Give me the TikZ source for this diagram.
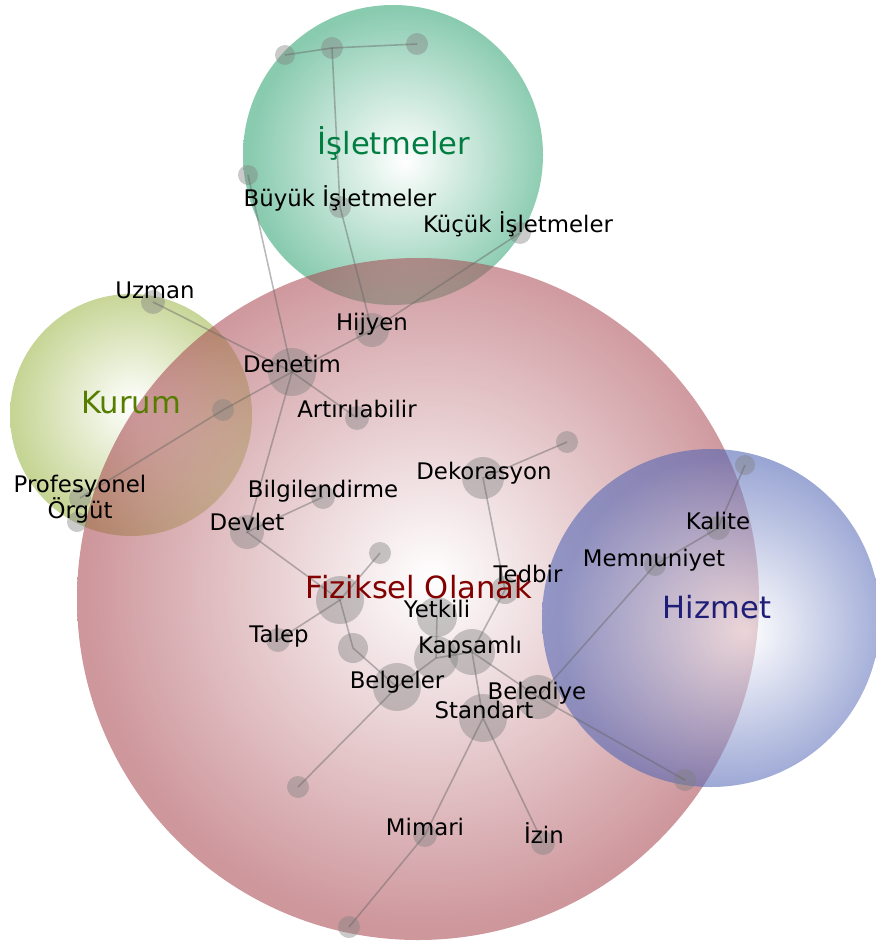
\documentclass[tikz,border=0pt]{standalone}
\usepackage{fontspec}
\setmainfont{DejaVu Sans}
\usepackage{tikz}

\definecolor{fizcol}{RGB}{165,65,75}
\definecolor{iscol}{RGB}{40,160,110}
\definecolor{kurcol}{RGB}{150,178,60}
\definecolor{hizcol}{RGB}{80,100,180}
\definecolor{fiztext}{RGB}{130,0,0}
\definecolor{istext}{RGB}{0,125,65}
\definecolor{kurtext}{RGB}{85,125,0}
\definecolor{hiztext}{RGB}{30,30,120}

\pgfdeclareradialshading{fizshade}{\pgfpoint{1bp}{1.5bp}}{color(0bp)=(white); color(25bp)=(fizcol); color(50bp)=(fizcol)}
\pgfdeclareradialshading{isshade}{\pgfpoint{2bp}{-1bp}}{color(0bp)=(white); color(25bp)=(iscol); color(50bp)=(iscol)}
\pgfdeclareradialshading{kurshade}{\pgfpoint{0.5bp}{2bp}}{color(0bp)=(white); color(25bp)=(kurcol); color(50bp)=(kurcol)}
\pgfdeclareradialshading{hizshade}{\pgfpoint{5bp}{-2bp}}{color(0bp)=(white); color(25bp)=(hizcol); color(50bp)=(hizcol)}

\tikzset{
  blob/.style={circle, fill=gray, fill opacity=0.42, inner sep=0pt, minimum size=#1},
  blob/.default=0.44cm,
  link/.style={draw=black!60, opacity=0.45, line width=0.9pt},
  lbl/.style={anchor=base, inner sep=0pt, font=\fontsize{13}{14.8}\selectfont},
  cat/.style={anchor=base, inner sep=0pt, font=\fontsize{17.4}{20}\selectfont}
}

\begin{document}
\begin{tikzpicture}[x=0.02cm, y=-0.02cm]
    \useasboundingbox (0,0) rectangle (875,942);

    % the four groups
    \shade [shading=isshade, fill opacity=0.55] (393,155) circle (150);
    \shade [shading=kurshade, fill opacity=0.55] (131,415) circle (121);
    \shade [shading=fizshade, fill opacity=0.55] (418,599) circle (341);
    \shade [shading=hizshade, fill opacity=0.58] (711,618) circle (169);

    % words
    \node [blob=0.4cm] (a1) at (285,55) {};
    \node [blob] (b1) at (332,48) {};
    \node [blob] (c1) at (417,44) {};
    \node [blob=0.4cm] (d1) at (248,175) {};
    \node [blob] (buyuk) at (340,207) {};
    \node [blob] (kucuk) at (520,233) {};
    \node [blob=0.48cm] (uzman) at (153,302) {};
    \node [blob=0.68cm] (hijyen) at (372,330) {};
    \node [blob=0.96cm] (denetim) at (292,372) {};
    \node [blob=0.48cm] (artir) at (357,418) {};
    \node [blob] (kurumdot) at (223,410) {};
    \node [blob] (prof) at (80,498) {};
    \node [blob=0.4cm] (prof2) at (77,522) {};
    \node [blob=0.48cm] (bilgi) at (323,497) {};
    \node [blob=0.68cm] (devlet) at (247,532) {};
    \node [blob=0.84cm] (dekor) at (483,478) {};
    \node [blob] (e2) at (567,442) {};
    \node [blob=0.56cm] (tedbir) at (505,590) {};
    \node [blob] (e1) at (380,553) {};
    \node [blob=0.96cm] (fiziksel) at (340,600) {};
    \node [blob=0.48cm] (talep) at (278,640) {};
    \node [blob=0.6cm] (f1) at (353,648) {};
    \node [blob=0.8cm] (yetkili) at (437,617) {};
    \node [blob=0.88cm] (kapsA) at (436,658) {};
    \node [blob=0.92cm] (kapsB) at (472,652) {};
    \node [blob=0.96cm] (belgeler) at (397,687) {};
    \node [blob=0.88cm] (belediye) at (538,697) {};
    \node [blob=0.96cm] (standart) at (483,718) {};
    \node [blob] (memnun) at (655,565) {};
    \node [blob=0.48cm] (kalite) at (718,528) {};
    \node [blob=0.4cm] (h1) at (745,465) {};
    \node [blob] (h2) at (685,780) {};
    \node [blob] (g1) at (298,787) {};
    \node [blob=0.48cm] (mimari) at (425,835) {};
    \node [blob=0.48cm] (izin) at (543,843) {};
    \node [blob] (m1) at (349,927) {};

    % links
    \draw [link] (a1.center) -- (b1.center) -- (c1.center);
    \draw [link] (b1.center) -- (buyuk.center) -- (hijyen.center);
    \draw [link] (d1.center) -- (denetim.center);
    \draw [link] (kucuk.center) -- (hijyen.center) -- (denetim.center) -- (kurumdot.center) -- (prof.center);
    \draw [link] (uzman.center) -- (denetim.center) -- (artir.center);
    \draw [link] (denetim.center) -- (devlet.center) -- (bilgi.center);
    \draw [link] (devlet.center) -- (fiziksel.center) -- (e1.center);
    \draw [link] (fiziksel.center) -- (talep.center);
    \draw [link] (fiziksel.center) -- (f1.center) -- (belgeler.center) -- (g1.center);
    \draw [link] (belgeler.center) -- (kapsA.center) -- (yetkili.center);
    \draw [link] (kapsA.center) -- (kapsB.center) -- (tedbir.center) -- (dekor.center) -- (e2.center);
    \draw [link] (kapsB.center) -- (standart.center) -- (mimari.center) -- (m1.center);
    \draw [link] (standart.center) -- (izin.center);
    \draw [link] (kapsB.center) -- (belediye.center) -- (h2.center);
    \draw [link] (belediye.center) -- (memnun.center) -- (kalite.center) -- (h1.center);

    % labels
    \node [lbl] (buyuk-t) at (buyuk.center) {Büyük İşletmeler};
    \node [lbl] (kucuk-t) at (518,233) {Küçük İşletmeler};
    \node [lbl] (uzman-t) at (155,298) {Uzman};
    \node [lbl] (hijyen-t) at (hijyen.center) {Hijyen};
    \node [lbl] (denetim-t) at (denetim.center) {Denetim};
    \node [lbl] (artir-t) at (357,417) {Artırılabilir};
    \node [lbl, align=center] (prof-t) at (80,518) {Profesyonel\\Örgüt};
    \node [lbl] (bilgi-t) at (bilgi.center) {Bilgilendirme};
    \node [lbl] (devlet-t) at (247,530) {Devlet};
    \node [lbl] (dekor-t) at (484,479) {Dekorasyon};
    \node [lbl] (tedbir-t) at (528,582) {Tedbir};
    \node [lbl] (yetkili-t) at (yetkili.center) {Yetkili};
    \node [lbl] (talep-t) at (279,642) {Talep};
    \node [lbl] (kaps-t) at (470,653) {Kapsamlı};
    \node [lbl] (belgeler-t) at (397,688) {Belgeler};
    \node [lbl] (belediye-t) at (537,699) {Belediye};
    \node [lbl] (standart-t) at (484,718) {Standart};
    \node [lbl] (memnun-t) at (654,566) {Memnuniyet};
    \node [lbl] (kalite-t) at (718,529) {Kalite};
    \node [lbl] (mimari-t) at (425,835) {Mimari};
    \node [lbl] (izin-t) at (544,843) {İzin};

    \node [cat, text=istext] (isletme-t) at (394,155) {İşletmeler};
    \node [cat, text=kurtext] (kurum-t) at (131,413) {Kurum};
    \node [cat, text=fiztext] (fiziksel-t) at (419,598) {Fiziksel Olanak};
    \node [cat, text=hiztext] (hizmet-t) at (717,618) {Hizmet};
\end{tikzpicture}
\end{document}
